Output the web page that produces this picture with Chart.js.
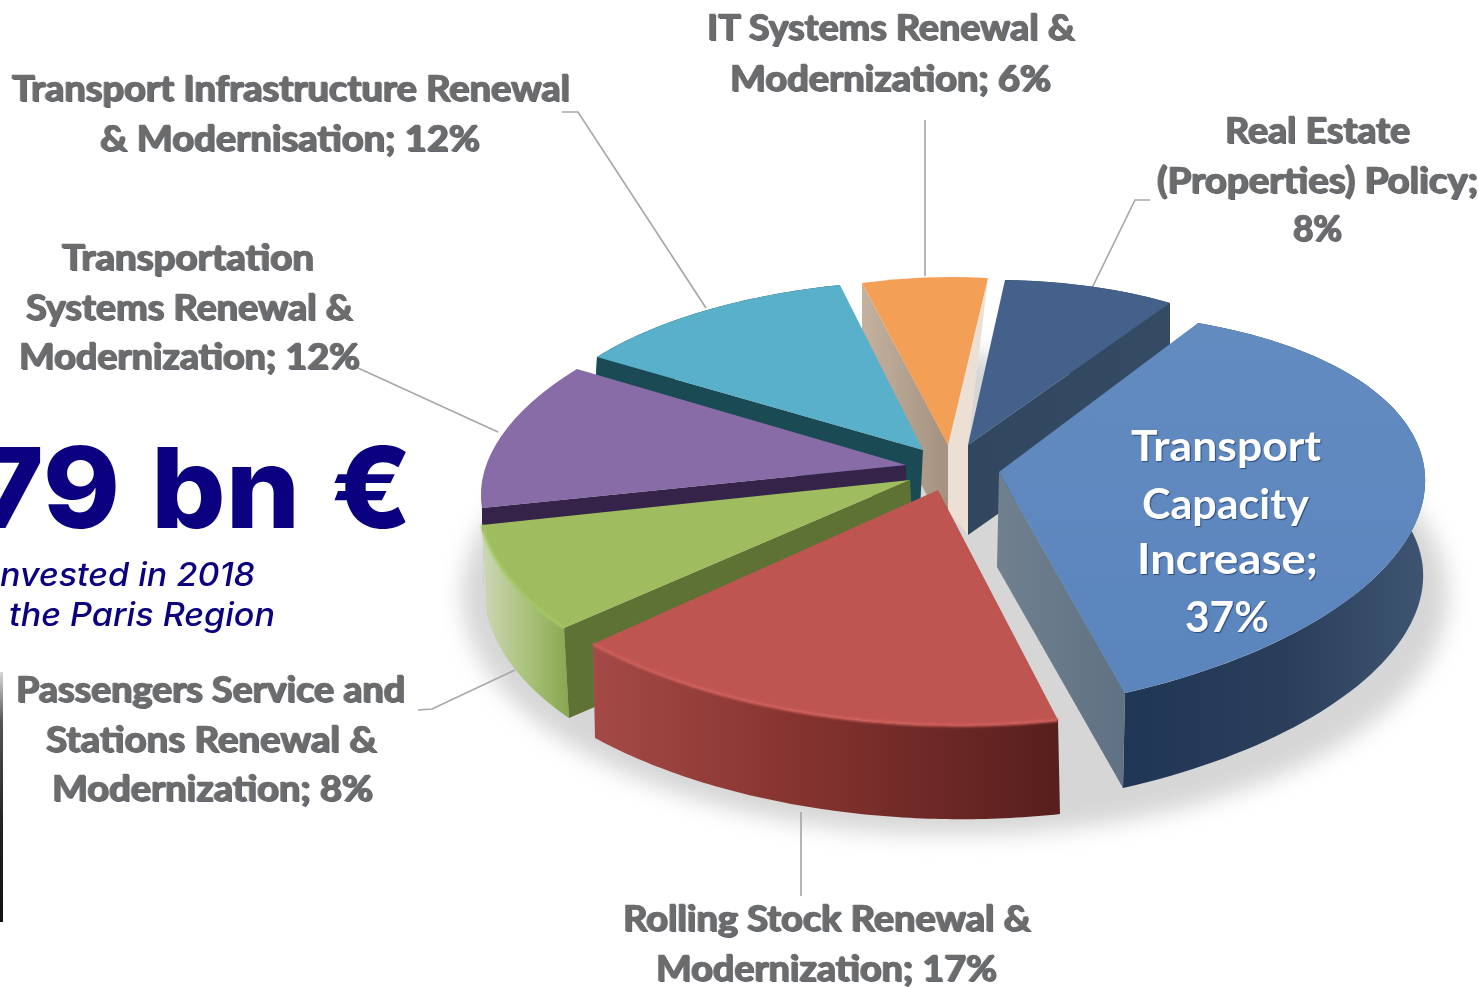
<!DOCTYPE html>
<html><head><meta charset="utf-8">
<script src="https://cdn.jsdelivr.net/npm/chart.js@4/dist/chart.umd.min.js"></script>
<style>
html,body{margin:0;padding:0;background:#fff;width:1478px;height:987px;overflow:hidden}
#wrap{position:relative;width:1478px;height:987px;overflow:hidden}
canvas{position:absolute;left:0;top:0}
.t{position:absolute;white-space:nowrap;transform-origin:0 50%;line-height:1}
.g{font:700 36px Lato,sans-serif;color:#6c6c6c;text-shadow:1px 1px 0 #5a6470,-1px 0 0 #9a9a9a;-webkit-text-stroke:.5px #6c6c6c}
.w{font:700 42px Lato,sans-serif;color:#fff;text-shadow:1px 1px 1px #2d4a78}
.big{font:800 112px Inter,sans-serif;color:#0a0080;word-spacing:5px}
.sub{font:italic 500 32px Inter,sans-serif;color:#0a0080}
#strip{position:absolute;left:0;top:672px;width:3px;height:250px;background:linear-gradient(#d8d8d8,#555 20%,#222 60%,#111)}
</style></head><body><div id="wrap"><canvas id="c" width="1478" height="987"></canvas><div id="strip"></div></div>
<script>
const categories = ["Transport Capacity Increase","Rolling Stock Renewal & Modernization","Passengers Service and Stations Renewal & Modernization","Transportation Systems Renewal & Modernization","Transport Infrastructure Renewal & Modernisation","IT Systems Renewal & Modernization","Real Estate (Properties) Policy"];
const values = [37,17,8,12,12,6,8];
const topColors = ["#5a85bd","#bf5551","#9fbd5e","#886ca7","#58b0ca","#f3a056","#43618a"];

// [text, class, left, right, centre y]
const textLines = [
 ["IT Systems Renewal &","g",707,1075,26],["Modernization; 6%","g",730,1051,77],
 ["Transport Infrastructure Renewal","g",12,570,87],["& Modernisation; 12%","g",100,480,137],
 ["Real Estate","g",1225,1410,129],["(Properties) Policy;","g",1157,1478,179],["8%","g",1293,1342,227],
 ["Transportation","g",62,314,256],["Systems Renewal &","g",26,353,306],["Modernization; 12%","g",19,360,355],
 ["Passengers Service and","g",16,405,688],["Stations Renewal &","g",46,377,738],["Modernization; 8%","g",52,373,787],
 ["Rolling Stock Renewal &","g",623,1031,917],["Modernization; 17%","g",656,997,967],
 ["Transport","w",1131,1321,445],["Capacity","w",1142,1309,503],["Increase;","w",1137,1318,558],["37%","w",1185,1269,616],
 ["79 bn €","big",-25,412,487],["nvested in 2018","sub",0,255,574],["the Paris Region","sub",9,275,614]
];

// screen geometry of each slice: wedge apex, first corner, last corner, extrusion vector, paint
const geo = [
 {apex:[999,472],c:[989,514],p0:[1198,323],p1:[1125,693],d:[-2,95],rim:[[1125,"#1f3654"],[1290,"#2b3f5c"],[1425,"#3e5572"]],cut:"end",cutFill:[[998,"#70808f"],[1125,"#5f7183"]],sheen:.05},
 {apex:[938,490],p0:[1058,720],p1:[593,644],d:[2,94],rim:[[595,"#a44a46"],[800,"#85332f"],[1058,"#571f1d"]],hi:"#d0605c"},
 {apex:[910,480],p0:[564,628],p1:[482,525],d:[5,90],rim:[[484,"#ccd6b4"],[530,"#a8c078"],[570,"#88a64e"]],cut:"start",cutFill:[[560,"#5e7234"],[910,"#5e7234"]],hi:"#a3c862"},
 {apex:[906,465],p0:[482,508],p1:[577,369],d:[2,80],cutD:[0,24],rim:[[480,"#c4c4c4"],[500,"#dddddd"]],cut:"start",cutFill:[[480,"#35234a"],[906,"#35234a"]]},
 {apex:[923,450],p0:[597,357],p1:[840,285],d:[-3,60],rim:[[590,"#1a4a54"],[840,"#1a4a54"]],cut:"start",cutFill:[[590,"#1a4a54"],[923,"#1a4a54"]]},
 {apex:[948,445],p0:[862,283],p1:[988,278],d:[0,90],cut:"start",cutFill:[[862,"#c4b29f"],[948,"#a49180"]]},
 {apex:[968,445],p0:[1005,280],p1:[1170,303],d:[0,90],rim:[[1000,"#33475f"],[1170,"#33475f"]],cut:"end",cutFill:[[968,"#31465f"],[1170,"#354a63"]]}
];
const drawOrder = [5,6,4,3,2,0,1];
const leaders = [
 [[562,112],[578,112],[706,308]],
 [[925,120],[925,276]],
 [[1150,200],[1135,200],[1092,288]],
 [[358,368],[498,432]],
 [[418,710],[432,709],[515,670]],
 [[801,812],[801,896]]
];

function matrixFor(el,g){
  const o=g.c||g.apex;
  const R=el.outerRadius,a0=el.startAngle,a1=el.endAngle;
  const ux=R*Math.cos(a0),uy=R*Math.sin(a0),wx=R*Math.cos(a1),wy=R*Math.sin(a1);
  const vx=g.p0[0]-o[0],vy=g.p0[1]-o[1],zx=g.p1[0]-o[0],zy=g.p1[1]-o[1];
  const det=ux*wy-wx*uy;
  const a=(vx*wy-zx*uy)/det,c=(zx*ux-vx*wx)/det,b=(vy*wy-zy*uy)/det,d=(zy*ux-vy*wx)/det;
  const e=o[0]-a*el.x-c*el.y,f=o[1]-b*el.x-d*el.y;
  return new DOMMatrix([a,b,c,d,e,f]);
}
function hGrad(ctx,stops){
  const x0=stops[0][0],x1=stops[stops.length-1][0];
  const gr=ctx.createLinearGradient(x0,0,x1,0);
  stops.forEach(s=>gr.addColorStop((s[0]-x0)/(x1-x0),s[1]));
  return gr;
}
function arcPts(el,m,n){
  const pts=[];
  for(let i=0;i<=n;i++){
    const a=el.startAngle+(el.endAngle-el.startAngle)*i/n;
    const p=m.transformPoint(new DOMPoint(el.x+el.outerRadius*Math.cos(a),el.y+el.outerRadius*Math.sin(a)));
    pts.push([p.x,p.y]);
  }
  return pts;
}
function trace(ctx,pts){ctx.beginPath();pts.forEach((p,i)=>i?ctx.lineTo(p[0],p[1]):ctx.moveTo(p[0],p[1]));ctx.closePath();}
function poly(ctx,pts,fill){trace(ctx,pts);ctx.fillStyle=fill;ctx.fill();}
const pie3d={
  id:"pie3d",
  beforeDatasetDraw(chart){
    const ctx=chart.ctx,els=chart.getDatasetMeta(0).data;
    ctx.save();ctx.filter="blur(11px)";ctx.fillStyle="#d6d6d6";
    ctx.beginPath();ctx.ellipse(955,595,493,240,0,0,Math.PI*2);ctx.fill();ctx.restore();
    ctx.save();ctx.strokeStyle="#a8a8a8";ctx.lineWidth=1.7;
    leaders.forEach(l=>{ctx.beginPath();l.forEach((p,i)=>i?ctx.lineTo(p[0],p[1]):ctx.moveTo(p[0],p[1]));ctx.stroke();});
    ctx.restore();
    drawOrder.forEach(i=>{
      const el=els[i],g=geo[i],m=matrixFor(el,g),pts=arcPts(el,m,80),dx=g.d[0],dy=g.d[1];
      if(i===5){ // pale reflection between the IT and Real Estate slices
        poly(ctx,[g.p1,g.apex,[g.apex[0],g.apex[1]+66],[968,535],[968,445]],"#ecdfd3");
      }
      if(g.rim){
        const low=pts.map(p=>[p[0]+dx,p[1]+dy]).reverse();
        poly(ctx,pts.concat(low),hGrad(ctx,g.rim));
      }
      if(g.cut){
        const e=g.cut==="start"?g.p0:g.p1,cd=g.cutD||g.d;
        poly(ctx,[g.apex,e,[e[0]+cd[0],e[1]+cd[1]],[g.apex[0]+cd[0],g.apex[1]+cd[1]]],hGrad(ctx,g.cutFill));
      }
      if(g.c){ // wedge tip sits away from the ellipse centre: cut the arc to the real wedge
        poly(ctx,[g.apex,g.p0,g.p1],el.options.backgroundColor);
        const far=(p)=>[g.apex[0]+(p[0]-g.apex[0])*3,g.apex[1]+(p[1]-g.apex[1])*3];
        ctx.save();
        const mid=[(g.p0[0]+g.p1[0])/2,(g.p0[1]+g.p1[1])/2];
        trace(ctx,[g.apex,far(g.p0),[g.apex[0]+(mid[0]-g.apex[0])*8,g.apex[1]+(mid[1]-g.apex[1])*8],far(g.p1)]);ctx.clip();
        ctx.transform(m.a,m.b,m.c,m.d,m.e,m.f);el.draw(ctx);ctx.restore();
      }else{
        ctx.save();ctx.transform(m.a,m.b,m.c,m.d,m.e,m.f);el.draw(ctx);ctx.restore();
      }
      if(g.sheen){
        const gr=ctx.createLinearGradient(0,g.p0[1],0,g.p1[1]);
        gr.addColorStop(0,"rgba(255,255,255,"+g.sheen+")");gr.addColorStop(1,"rgba(255,255,255,0)");
        poly(ctx,[g.apex].concat(pts),gr);
      }
      if(g.hi){
        ctx.save();ctx.strokeStyle=g.hi;ctx.lineWidth=3;ctx.filter="blur(1px)";ctx.beginPath();
        pts.forEach((p,k)=>k?ctx.lineTo(p[0],p[1]):ctx.moveTo(p[0],p[1]));ctx.stroke();ctx.restore();
      }
    });
    return false;
  }
};
new Chart(document.getElementById("c"),{
  type:"pie",
  data:{labels:categories,datasets:[{data:values,backgroundColor:topColors,borderWidth:0}]},
  options:{responsive:false,animation:false,rotation:28,layout:{padding:0},
    plugins:{legend:{display:false},tooltip:{enabled:false}}},
  plugins:[pie3d]
});
const wrap=document.getElementById("wrap");
textLines.forEach(l=>{
  const s=document.createElement("span");s.className="t "+l[1];s.textContent=l[0];
  wrap.appendChild(s);
  const r=s.getBoundingClientRect();
  s.style.left=l[2]+"px";s.style.top=(l[4]-r.height/2)+"px";
  s.style.transform="scaleX("+((l[3]-l[2])/r.width)+")";
});
</script></body></html>
